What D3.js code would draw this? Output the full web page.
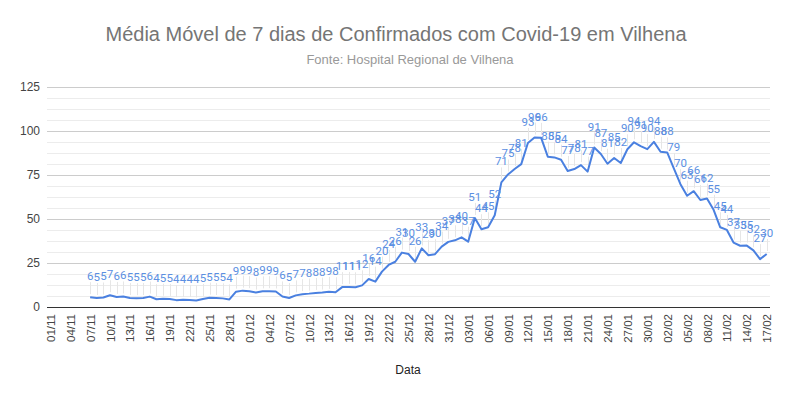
<!DOCTYPE html>
<html lang='pt-BR'>

<head>
    <meta charset='utf-8'>
    <title>Média Móvel Vilhena</title>
    <style>
        body {
            margin: 0;
            background-color: #ffffff;
            font-family: 'Liberation Sans', Arial, sans-serif;
        }
    </style>
    <script src='https://d3js.org/d3.v7.min.js' charset='utf-8'></script>
</head>

<body>
    <div id='chart'></div>
    <script type="text/javascript">
        const WIDTH = 790;
        const HEIGHT = 396;

        // dias (categorias do eixo x)
        var dates = [
            '01/11', '02/11', '03/11', '04/11', '05/11', '06/11', '07/11', '08/11', '09/11', '10/11',
            '11/11', '12/11', '13/11', '14/11', '15/11', '16/11', '17/11', '18/11', '19/11', '20/11',
            '21/11', '22/11', '23/11', '24/11', '25/11', '26/11', '27/11', '28/11', '29/11', '30/11',
            '01/12', '02/12', '03/12', '04/12', '05/12', '06/12', '07/12', '08/12', '09/12', '10/12',
            '11/12', '12/12', '13/12', '14/12', '15/12', '16/12', '17/12', '18/12', '19/12', '20/12',
            '21/12', '22/12', '23/12', '24/12', '25/12', '26/12', '27/12', '28/12', '29/12', '30/12',
            '31/12', '01/01', '02/01', '03/01', '04/01', '05/01', '06/01', '07/01', '08/01', '09/01',
            '10/01', '11/01', '12/01', '13/01', '14/01', '15/01', '16/01', '17/01', '18/01', '19/01',
            '20/01', '21/01', '22/01', '23/01', '24/01', '25/01', '26/01', '27/01', '28/01', '29/01',
            '30/01', '31/01', '01/02', '02/02', '03/02', '04/02', '05/02', '06/02', '07/02', '08/02',
            '09/02', '10/02', '11/02', '12/02', '13/02', '14/02', '15/02', '16/02', '17/02'
        ];

        // media movel de 7 dias
        var mediaMovel = [
            null, null, null, null, null, null, 5.6, 5.1, 5.4, 6.7,
            5.7, 6.0, 5.1, 5.0, 5.1, 5.9, 4.4, 4.7, 4.6, 3.9,
            4.1, 4.0, 3.7, 4.6, 5.3, 5.1, 4.9, 4.3, 8.7, 9.3,
            9.0, 8.2, 8.9, 9.0, 8.8, 6.0, 5.1, 6.6, 7.3, 7.6,
            8.0, 8.2, 8.6, 8.4, 11.3, 11.4, 11.2, 12.3, 15.9, 14.4,
            20.1, 23.9, 25.7, 30.9, 30.1, 25.7, 33.3, 29.4, 30.0, 34.3,
            37.0, 37.9, 39.6, 37.1, 50.6, 44.2, 45.3, 52.1, 70.8, 75.3,
            78.4, 81.2, 93.2, 96.3, 96.1, 85.4, 85.0, 83.7, 77.3, 78.4,
            80.6, 76.9, 90.6, 86.9, 81.4, 84.7, 81.8, 89.6, 93.6, 91.4,
            89.7, 93.8, 88.2, 87.8, 78.8, 69.8, 63.2, 65.8, 60.8, 61.6,
            55.2, 45.3, 43.8, 36.6, 34.8, 34.9, 32.2, 27.2, 30.1
        ];

        var xTicks = [
            '01/11', '04/11', '07/11', '10/11', '13/11', '16/11', '19/11', '22/11', '25/11', '28/11',
            '01/12', '04/12', '07/12', '10/12', '13/12', '16/12', '19/12', '22/12', '25/12', '28/12',
            '31/12', '03/01', '06/01', '09/01', '12/01', '15/01', '18/01', '21/01', '24/01', '27/01',
            '30/01', '02/02', '05/02', '08/02', '11/02', '14/02', '17/02'
        ];
        var yTicks = [0, 25, 50, 75, 100, 125];

        var data = dates.map(function (d, i) {
            return { 'date': d, 'value': mediaMovel[i] };
        });

        var svg = d3.select('#chart')
            .append('svg')
            .attr('width', WIDTH)
            .attr('height', HEIGHT);

        var x = d3.scalePoint()
            .domain(dates)
            .range([47, 770])
            .padding(0.5);

        var y = d3.scaleLinear()
            .domain([0, 125])
            .range([307, 87]);

        // linhas de grade menores
        svg.append('g')
            .selectAll('line')
            .data(d3.range(0, 125, 6.25).filter(function (v) { return v % 25 !== 0; }))
            .enter()
            .append('line')
            .attr('x1', 47)
            .attr('x2', 770)
            .attr('y1', function (d) { return Math.round(y(d)) + 0.5; })
            .attr('y2', function (d) { return Math.round(y(d)) + 0.5; })
            .attr('stroke', '#ececec');

        // eixo y
        var yAxis = svg.append('g')
            .attr('transform', 'translate(47,0)')
            .call(d3.axisLeft(y).tickValues(yTicks).tickSize(-723).tickPadding(7));
        yAxis.select('.domain').remove();
        yAxis.selectAll('.tick line')
            .attr('stroke', function (d) { return d === 0 ? '#333333' : '#cccccc'; });
        yAxis.selectAll('.tick text')
            .attr('font-family', 'Liberation Sans, Arial, sans-serif')
            .attr('font-size', '12px')
            .attr('fill', '#444444');

        // eixo x
        var xAxis = svg.append('g')
            .attr('transform', 'translate(0,307)')
            .call(d3.axisBottom(x).tickValues(xTicks).tickSize(0).tickPadding(6));
        xAxis.select('.domain').remove();
        xAxis.selectAll('.tick text')
            .attr('font-family', 'Liberation Sans, Arial, sans-serif')
            .attr('font-size', '11.5px')
            .attr('fill', '#444444')
            .attr('transform', 'rotate(-90)')
            .attr('text-anchor', 'end')
            .attr('x', -7)
            .attr('y', 0)
            .attr('dy', '0.35em');

        var pts = data.filter(function (d) { return d.value !== null; });

        // linhas guia dos rótulos
        svg.append('g')
            .selectAll('line')
            .data(pts)
            .enter()
            .append('line')
            .attr('x1', function (d) { return Math.round(x(d.date)) + 0.5; })
            .attr('x2', function (d) { return Math.round(x(d.date)) + 0.5; })
            .attr('y1', function (d) { return y(d.value) - 3; })
            .attr('y2', function (d) { return y(d.value) - 15; })
            .attr('stroke', '#e6e6e6');

        var line = d3.line()
            .defined(function (d) { return d.value !== null; })
            .x(function (d) { return x(d.date); })
            .y(function (d) { return y(d.value); });

        svg.append('path')
            .datum(data)
            .attr('d', line)
            .attr('fill', 'none')
            .attr('stroke', '#4a80e0')
            .attr('stroke-width', 2)
            .attr('stroke-linejoin', 'round');

        // rótulos de dados
        svg.append('g')
            .selectAll('text')
            .data(pts)
            .enter()
            .append('text')
            .text(function (d) { return d3.format('.0f')(d.value); })
            .attr('x', function (d) { return x(d.date); })
            .attr('y', function (d) { return y(d.value) - 17; })
            .attr('text-anchor', 'middle')
            .attr('font-family', 'Roboto, Liberation Sans, sans-serif')
            .attr('font-size', '11.5px')
            .attr('fill', '#5b8fe2');

        // títulos
        svg.append('text')
            .text('Média Móvel de 7 dias de Confirmados com Covid-19 em Vilhena')
            .attr('x', 396)
            .attr('y', 41)
            .attr('text-anchor', 'middle')
            .attr('font-size', '20px')
            .attr('fill', '#757575');

        svg.append('text')
            .text('Fonte: Hospital Regional de Vilhena')
            .attr('x', 410)
            .attr('y', 64)
            .attr('text-anchor', 'middle')
            .attr('font-size', '13px')
            .attr('fill', '#999999');

        svg.append('text')
            .text('Data')
            .attr('x', 408)
            .attr('y', 374)
            .attr('text-anchor', 'middle')
            .attr('font-size', '12px')
            .attr('fill', '#222222');
    </script>
</body>

</html>
